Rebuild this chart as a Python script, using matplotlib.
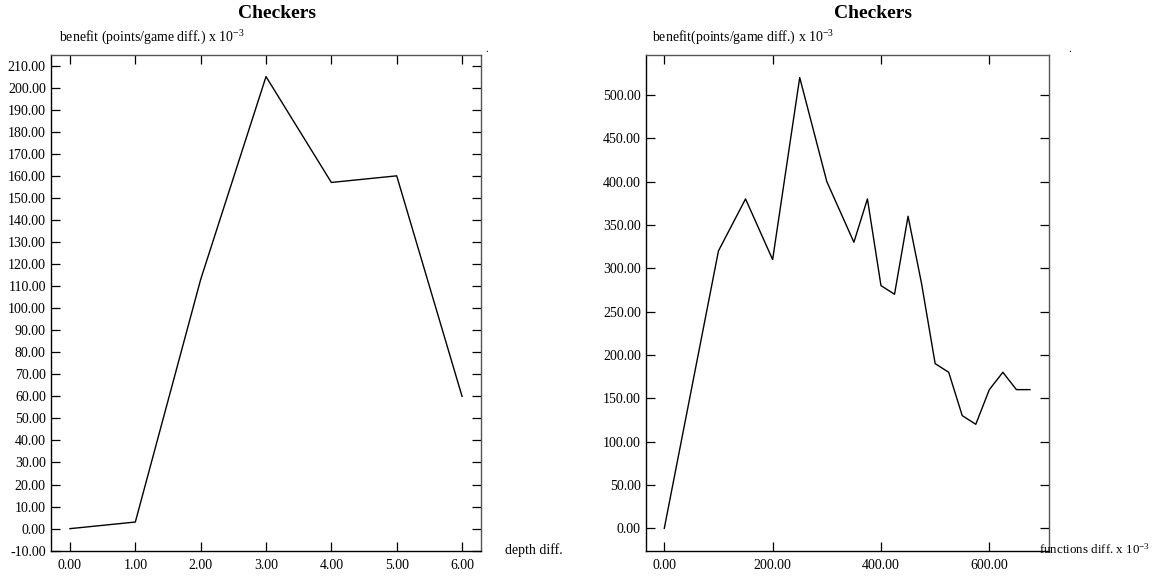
import matplotlib
matplotlib.use("Agg")
import matplotlib.pyplot as plt

plt.rcParams['font.family'] = ['Liberation Serif', 'DejaVu Serif']
plt.rcParams['mathtext.fontset'] = 'custom'
plt.rcParams['mathtext.rm'] = 'Liberation Serif'
plt.rcParams['mathtext.it'] = 'Liberation Serif:italic'
plt.rcParams['mathtext.bf'] = 'Liberation Serif:bold'

# depth experiment
depth_diff = [0, 1, 2, 3, 4, 5, 6]
depth_benefit = [0, 3, 113, 205, 157, 160, 60]
depth_xticks = [0, 1, 2, 3, 4, 5, 6]
depth_yticks = list(range(-10, 211, 10))

# function count experiment
func_diff = [0, 100, 150, 200, 250, 300, 350, 375, 400, 425, 450, 475,
             500, 525, 550, 575, 600, 625, 650, 675]
func_benefit = [0, 320, 380, 310, 520, 400, 330, 380, 280, 270, 360, 282,
                190, 180, 130, 120, 160, 180, 160, 160]
func_xticks = [0, 200, 400, 600]
func_yticks = list(range(0, 501, 50))

W, H = 1156, 576
fig = plt.figure(figsize=(W / 100, H / 100), dpi=100)


def px_axes(left, top, right, bottom):
    return fig.add_axes([left / W, 1 - bottom / H, (right - left) / W, (bottom - top) / H])


def style(ax):
    ax.tick_params(direction='in', length=6.5, width=0.9, top=True, right=True,
                   labelsize=10, colors='black')
    ax.tick_params(axis='y', pad=3.5)
    ax.tick_params(axis='x', pad=6)
    for s in ax.spines.values():
        s.set_linewidth(1.0)
        s.set_color('black')
    for s in ('top', 'right'):
        ax.spines[s].set_color('#555555')


# left chart
ax1 = px_axes(50.7, 55, 481, 550.7)
ax1.plot(depth_diff, depth_benefit, color='black', lw=1.0)
ax1.set_xlim(-0.295, 6.29)
ax1.set_ylim(-10, 214.8)
ax1.set_xticks(depth_xticks)
ax1.set_yticks(depth_yticks)
ax1.xaxis.set_major_formatter(plt.FormatStrFormatter('%.2f'))
ax1.yaxis.set_major_formatter(plt.FormatStrFormatter('%.2f'))
style(ax1)

# right chart
ax2 = px_axes(645.7, 55, 1049.3, 550.7)
ax2.plot(func_diff, func_benefit, color='black', lw=1.0)
ax2.set_xlim(-34.3, 710.7)
ax2.set_ylim(-25.8, 546)
ax2.set_xticks(func_xticks)
ax2.set_yticks(func_yticks)
ax2.xaxis.set_major_formatter(plt.FormatStrFormatter('%.2f'))
ax2.yaxis.set_major_formatter(plt.FormatStrFormatter('%.2f'))
style(ax2)

# titles and labels
fig.text(277 / W, 1 - 13 / H, 'Checkers', ha='center', va='center',
         fontsize=14, fontweight='bold')
fig.text(873 / W, 1 - 13 / H, 'Checkers', ha='center', va='center',
         fontsize=14, fontweight='bold')
fig.text(59 / W, 1 - 38 / H, r'benefit (points/game diff.) x $10^{-3}$',
         ha='left', va='center', fontsize=10)
fig.text(652 / W, 1 - 38 / H, r'benefit(points/game diff.) x $10^{-3}$',
         ha='left', va='center', fontsize=10)
fig.text(505 / W, 1 - 550 / H, 'depth diff.', ha='left', va='center', fontsize=10)
fig.text(1039 / W, 1 - 549 / H, r'functions diff. x $10^{-3}$',
         ha='left', va='center', fontsize=9.4)
fig.text(487 / W, 1 - 50 / H, '.', ha='center', va='center', fontsize=8)
fig.text(1070 / W, 1 - 50 / H, '.', ha='center', va='center', fontsize=8)

fig.savefig('out.png', dpi=100, facecolor='white')
